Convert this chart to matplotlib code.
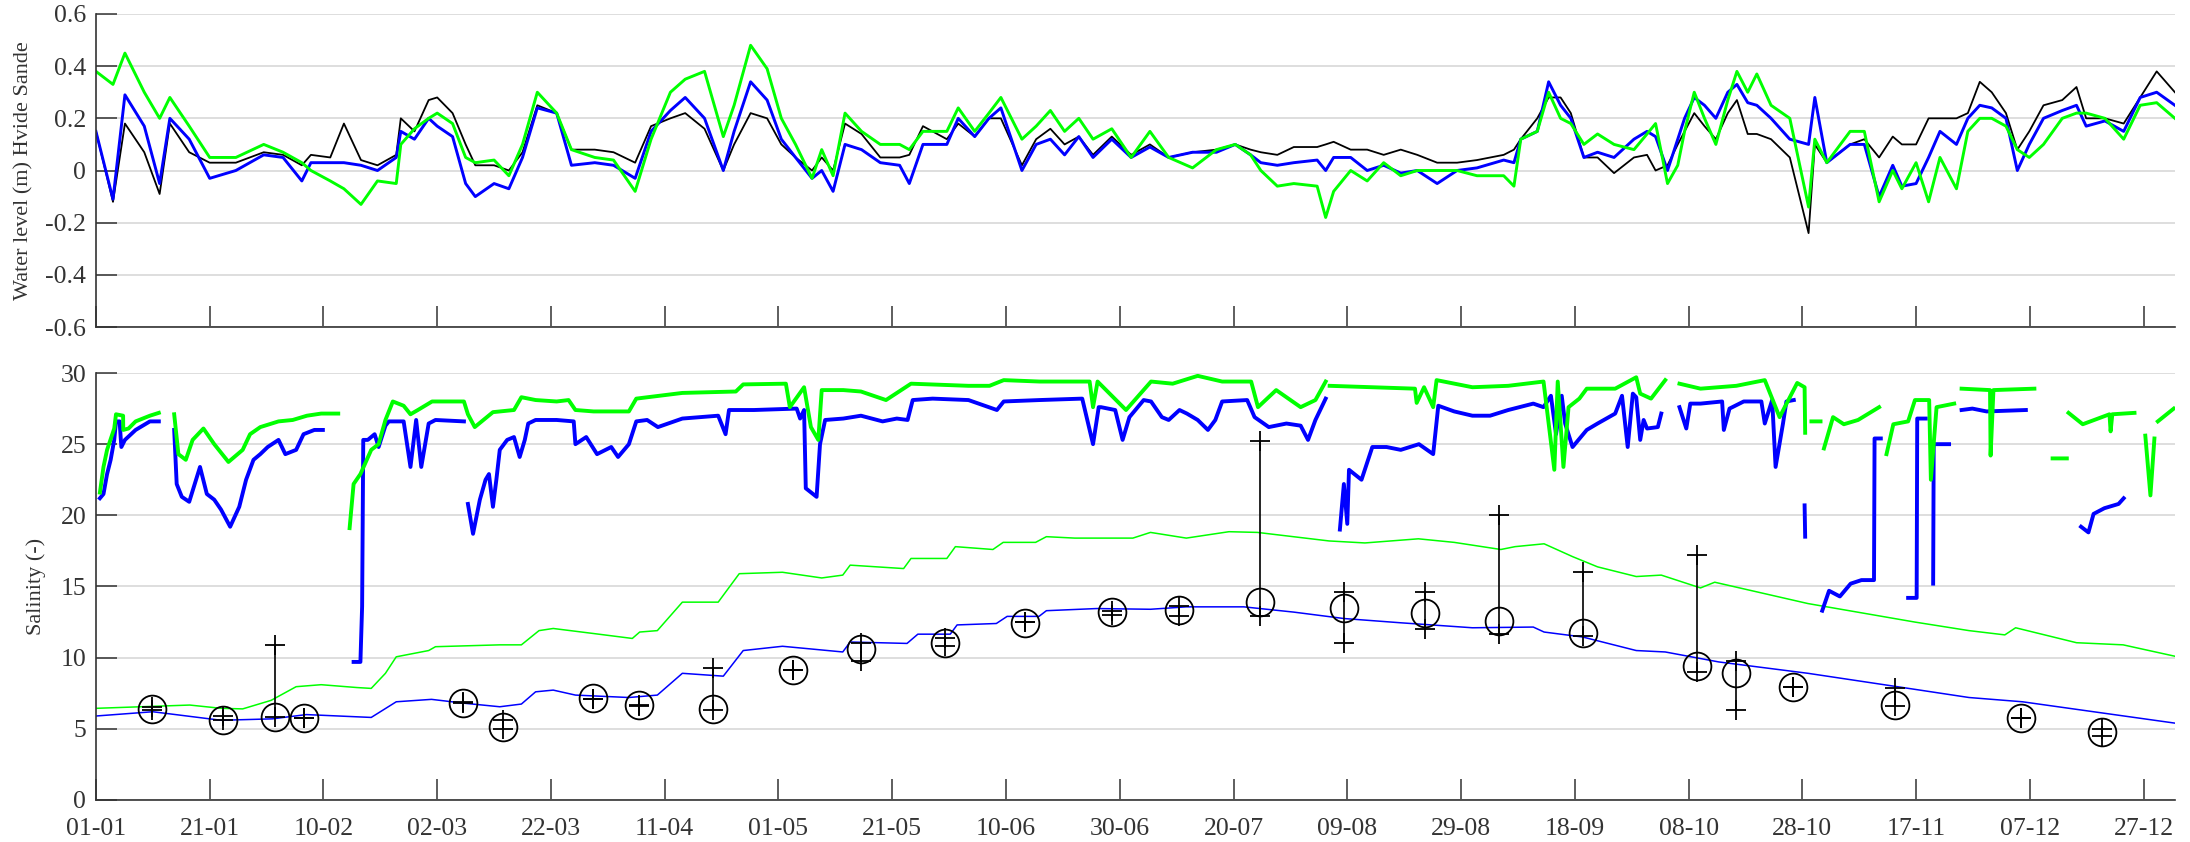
import numpy as np
import matplotlib.pyplot as plt

nan = np.nan

# x axis: day of year (01-01 = 0)
tick_days = list(range(0, 361, 20))
tick_labels = ["01-01", "21-01", "10-02", "02-03", "22-03", "11-04", "01-05",
               "21-05", "10-06", "30-06", "20-07", "09-08", "29-08", "18-09",
               "08-10", "28-10", "17-11", "07-12", "27-12"]

# ---- water level Hvide Sande (top panel) ----
wl_days = [0, 3, 5.1, 8.5, 11.2, 13, 16.4, 20, 24.6, 29.5, 32.9, 36.2, 37.8, 41.2,
           43.6, 46.6, 49.5, 52.8, 53.6, 56, 58.5, 60, 62.7, 65, 66.7, 70, 72.6, 75,
           77.6, 81, 83.6, 87.7, 91, 94.8, 97.6, 101, 103.6, 107, 110.3, 112.2, 115.1,
           118, 120.5, 123, 125.9, 127.6, 129.6, 131.7, 134.6, 137.9, 141.3, 143,
           145.4, 149.6, 151.6, 154.5, 157, 159.1, 162.8, 165.3, 167.8, 170.3, 172.8,
           175.3, 178.6, 182, 185.3, 188.6, 192.8, 197, 200.3,
           203, 204.8, 207.7, 210.6, 214.7, 216.2, 217.6, 220.6, 223.5, 226.4, 229.4,
           232.3, 235.8, 239.3, 242.8, 247.5, 249.3, 250.5, 253.4, 255.4, 257.5,
           259.3, 261.6, 264, 266.9, 270.4, 272.7, 274.2, 276.3, 278.1, 279.3, 281,
           282.8, 284.8, 286.9, 288.5, 290.4,
           292, 294.5, 297.8, 301.1, 302.2, 304.3, 308.4, 310.9, 313.5, 315.9, 317.5,
           320, 322.2, 324.2, 327.1, 329.1, 331.2, 333.3, 335.8, 337.8, 339.9, 342.4,
           345.7, 348.2, 349.9, 353.2, 356.5, 359.4, 362.3, 365.5]
wl_black = [0.15, -0.12, 0.18, 0.07, -0.09, 0.18, 0.07, 0.03, 0.03, 0.07, 0.06, 0.02,
            0.06, 0.05, 0.18, 0.04, 0.02, 0.06, 0.20, 0.15, 0.27, 0.28, 0.22, 0.10,
            0.02, 0.02, 0.00, 0.07, 0.25, 0.22, 0.08, 0.08, 0.07, 0.03, 0.17, 0.20,
            0.22, 0.16, 0.00, 0.10, 0.22, 0.20, 0.10, 0.05, 0.00, 0.05, 0.00, 0.18,
            0.14, 0.05, 0.05, 0.06, 0.17, 0.12, 0.18, 0.13, 0.20, 0.20, 0.02, 0.12,
            0.16, 0.10, 0.13, 0.06, 0.13, 0.06, 0.10, 0.05, 0.07, 0.08, 0.10,
            0.08, 0.07, 0.06, 0.09, 0.09, 0.10, 0.11, 0.08, 0.08, 0.06, 0.08,
            0.06, 0.03, 0.03, 0.04, 0.06, 0.08, 0.12, 0.20, 0.28, 0.28,
            0.22, 0.05, 0.05, -0.01, 0.05, 0.06, 0.00, 0.02, 0.10, 0.15, 0.22,
            0.17, 0.12, 0.22, 0.27, 0.14,
            0.14, 0.12, 0.05, -0.24, 0.10, 0.03, 0.10, 0.12, 0.05, 0.13, 0.10,
            0.10, 0.20, 0.20, 0.20, 0.22, 0.34, 0.30, 0.22, 0.08, 0.15, 0.25,
            0.27, 0.32, 0.20, 0.20, 0.18, 0.28, 0.38, 0.30]
wl_blue = [0.15, -0.11, 0.29, 0.17, -0.05, 0.20, 0.12, -0.03, 0.00, 0.06, 0.05, -0.04,
           0.03, 0.03, 0.03, 0.02, 0.00, 0.05, 0.15, 0.12, 0.20, 0.17, 0.13, -0.05,
           -0.10, -0.05, -0.07, 0.05, 0.24, 0.22, 0.02, 0.03, 0.02, -0.03, 0.15, 0.23,
           0.28, 0.20, 0.00, 0.15, 0.34, 0.27, 0.12, 0.05, -0.03, 0.00, -0.08, 0.10,
           0.08, 0.03, 0.02, -0.05, 0.10, 0.10, 0.20, 0.13, 0.20, 0.24, 0.00, 0.10,
           0.12, 0.06, 0.13, 0.05, 0.12, 0.05, 0.09, 0.05, 0.07, 0.07, 0.10,
           0.06, 0.03, 0.02, 0.03, 0.04, 0.00, 0.05, 0.05, 0.00, 0.02, -0.01,
           0.00, -0.05, 0.00, 0.01, 0.04, 0.03, 0.12, 0.15, 0.34, 0.25,
           0.20, 0.05, 0.07, 0.05, 0.12, 0.15, 0.13, 0.00, 0.12, 0.20, 0.28,
           0.25, 0.20, 0.30, 0.33, 0.26,
           0.25, 0.20, 0.12, 0.10, 0.28, 0.03, 0.10, 0.10, -0.10, 0.02, -0.06,
           -0.05, 0.05, 0.15, 0.10, 0.20, 0.25, 0.24, 0.20, 0.00, 0.10, 0.20,
           0.23, 0.25, 0.17, 0.19, 0.15, 0.28, 0.30, 0.25]
wl_green = [0.38, 0.33, 0.45, 0.30, 0.20, 0.28, 0.17, 0.05, 0.05, 0.10, 0.07, 0.03,
            0.00, -0.04, -0.07, -0.13, -0.04, -0.05, 0.10, 0.16, 0.20, 0.22, 0.18,
            0.05, 0.03, 0.04, -0.02, 0.10, 0.30, 0.22, 0.08, 0.05, 0.04, -0.08, 0.12,
            0.30, 0.35, 0.38, 0.13, 0.25, 0.48, 0.39, 0.20, 0.10, -0.03, 0.08, -0.02,
            0.22, 0.15, 0.10, 0.10, 0.08, 0.15, 0.15, 0.24, 0.15, 0.22, 0.28, 0.12,
            0.17, 0.23, 0.15, 0.20, 0.12, 0.16, 0.05, 0.15, 0.05, 0.01, 0.08, 0.10,
            0.06, 0.00, -0.06, -0.05, -0.06, -0.18, -0.08, 0.00, -0.04, 0.03, -0.02,
            0.00, 0.00, 0.00, -0.02, -0.02, -0.06, 0.12, 0.15, 0.30, 0.20,
            0.18, 0.10, 0.14, 0.10, 0.08, 0.14, 0.18, -0.05, 0.02, 0.15, 0.30,
            0.20, 0.10, 0.27, 0.38, 0.30,
            0.37, 0.25, 0.20, -0.14, 0.12, 0.03, 0.15, 0.15, -0.12, 0.00, -0.07,
            0.03, -0.12, 0.05, -0.07, 0.15, 0.20, 0.20, 0.17, 0.08, 0.05, 0.10,
            0.20, 0.22, 0.22, 0.20, 0.12, 0.25, 0.26, 0.20]

# ---- salinity (bottom panel) ----
# upper thick green (gaps = nan)
sg_days = [0.7, 1.33, 1.96, 3.22, 3.53, 4.78, 4.8, 5.73, 6.98, 9.49, 11.06, nan,
           13.76, 14.5, 15.8, 17.0, 18.9, 20.8, 23.3, 25.8, 27.1, 28.9, 32.1, 34.6,
           37.1, 39.6, 42.6, nan,
           44.6, 45.3, 46.5, 48.4, 49.7, 50.9, 52.2, 54.1, 55.3, 56.6, 59.1, 61.6,
           64.7, 65.4, 66.6, 69.8, 73.5, 74.8, 77.3, 81.0, 83.1, 84.3, 87.5, 93.7,
           95.0, 103.1, 112.5, 113.8, 121.3, 122.0, 124.5, 125.7, 127.0, 127.6,
           131.4, 134.5, 138.9, 143.3, 153.4, 157.1, 159.6, 165.9, 174.7, 175.3,
           176.1, 181.1, 185.5, 189.3, 193.7, 198.0, 203.1, 204.3, 207.5, 211.8,
           214.4, 216.2, nan,
           216.9, 231.9, 232.2, 233.5, 235.1, 235.7, 242.0, 248.3, 254.5, 256.4,
           257.0, 258.0, 258.9, 260.8, 262.1, 267.1, 270.8, 271.5, 273.4, 275.9, nan,
           278.4, 282.1, 288.4, 293.4, 296.0, 299.1, 300.4, 300.5, nan,
           301.6, 303.2, nan,
           303.8, 305.4, 307.3, 309.8, 313.5, nan,
           314.8, 316.0, 318.6, 319.8, 322.3, 322.6, 323.6, 326.7, nan,
           328.0, 333.0, 333.1, 333.6, 340.8, nan,
           344.0, 346.5, nan,
           346.8, 349.3, 354.0, 354.2, 354.5, 358.4, nan,
           360.3, 361.2, 361.9, nan,
           362.5, 365.3]
sg_vals = [21.6, 23.4, 24.6, 26.1, 27.1, 27.0, 26.0, 26.1, 26.6, 27.0, 27.2, nan,
           27.1, 24.3, 23.9, 25.3, 26.1, 25.0, 23.75, 24.6, 25.7, 26.2, 26.6, 26.7,
           27.0, 27.15, 27.15, nan,
           19.1, 22.2, 22.9, 24.6, 25.0, 26.7, 28.0, 27.7, 27.1, 27.4, 28.0, 28.0,
           28.0, 27.1, 26.2, 27.25, 27.4, 28.3, 28.1, 28.0, 28.1, 27.4, 27.3, 27.3,
           28.2, 28.6, 28.7, 29.2, 29.25, 27.6, 29.0, 26.2, 25.3, 28.8,
           28.8, 28.7, 28.1, 29.25, 29.1, 29.1, 29.5, 29.4, 29.4, 27.6,
           29.4, 27.4, 29.4, 29.25, 29.8, 29.4, 29.4, 27.6, 28.8, 27.6,
           28.1, 29.4, nan,
           29.1, 28.9, 27.9, 29.0, 27.6, 29.5, 29.0, 29.1, 29.4, 23.2,
           29.4, 23.4, 27.6, 28.2, 28.9, 28.9, 29.7, 28.55, 28.2, 29.5, nan,
           29.25, 28.9, 29.1, 29.5, 26.9, 29.3, 29.0, 25.8, nan,
           26.6, 26.6, nan,
           24.7, 26.9, 26.4, 26.7, 27.6, nan,
           24.3, 26.4, 26.6, 28.1, 28.1, 22.5, 27.6, 27.85, nan,
           28.9, 28.8, 24.2, 28.8, 28.9, nan,
           24.0, 24.0, nan,
           27.2, 26.4, 27.1, 25.9, 27.1, 27.2, nan,
           25.6, 21.4, 25.4, nan,
           26.6, 27.5]

# upper thick blue (gaps = nan)
sb_days = [0.7, 1.33, 1.96, 2.59, 3.22, 3.53, 4.16, 4.47, 5.1, 6.98, 9.49, 11.06, nan,
           13.76, 14.2, 15.1, 16.4, 17.6, 18.3, 19.5, 20.8, 22.0, 23.6, 25.2, 26.4,
           27.7, 28.9, 30.2, 32.1, 33.3, 35.2, 36.5, 38.4, 39.9, nan,
           45.3, 46.5, 46.8, 47.0, 47.8, 49.0, 49.7, 50.9, 51.5, 54.1, 55.3, 56.3,
           57.2, 58.5, 59.7, 64.7, nan,
           65.4, 66.3, 67.5, 68.5, 69.1, 69.8, 70.4, 71.0, 72.3, 73.5, 74.5, 75.4,
           76.0, 77.3, 81.0, 84.0, 84.3, 86.2, 88.1, 90.6, 91.8, 93.7, 95.0, 96.9,
           98.8, 103.1, 109.4, 110.7, 111.3, 115.7, 123.2, 123.8, 124.5, 124.8,
           126.7, 127.3, 128.2, 131.4, 134.5, 138.3, 140.8, 142.7, 143.6, 147.1,
           153.4, 158.4, 159.6, 165.9, 173.4, 175.3, 176.3, 176.7, 179.2, 180.5,
           181.7, 184.2, 185.5, 187.4, 188.6, 190.5, 191.8, 193.7, 195.5, 196.8,
           198.0, 202.4, 203.7, 206.2, 209.3, 211.8, 213.1, 214.4, 216.2, nan,
           218.7, 219.4, 220.0, 220.3, 222.5, 224.4, 226.9, 229.4, 232.6, 235.1,
           236.0, 238.8, 242.0, 245.1, 248.3, 252.7, 254.5, 255.8, 256.7, 257.7,
           258.3, 259.6, 262.1, 264.0, 267.1, 268.3, 269.3, 270.2, 270.8, 271.5,
           272.1, 272.7, 274.6, 275.2, nan,
           278.4, 279.6, 280.3, 282.1, 285.9, 286.2, 287.2, 289.7, 292.8, 293.4,
           294.7, 295.3, 296.6, 297.2, 298.5, nan,
           300.4, 300.5, nan,
           303.5, 304.7, 306.6, 308.5, 310.4, 312.6, 312.7, 313.8, nan,
           318.6, 320.1, 320.2, 321.7, nan,
           323.0, 323.1, 325.8, nan,
           328.0, 329.9, 332.4, 339.3, nan,
           349.0, 350.3, 351.2, 353.1, 355.6, 356.5]
sb_vals = [21.2, 21.5, 22.9, 23.9, 25.3, 26.6, 26.6, 24.8, 25.3, 26.0, 26.6, 26.6, nan,
           26.0, 22.2, 21.3, 20.95, 22.5, 23.4, 21.5, 21.1, 20.4, 19.2, 20.6, 22.5,
           23.9, 24.3, 24.8, 25.3, 24.3, 24.6, 25.7, 26.0, 26.0, nan,
           9.7, 9.7, 13.6, 25.3, 25.3, 25.7, 24.8, 26.3, 26.6, 26.6, 23.4, 26.7,
           23.4, 26.45, 26.7, 26.6, nan,
           20.8, 18.7, 21.1, 22.5, 22.9, 20.6, 22.5, 24.6, 25.3, 25.5, 24.1, 25.3,
           26.45, 26.7, 26.7, 26.6, 25.0, 25.5, 24.3, 24.8, 24.1, 25.0, 26.6, 26.7,
           26.2, 26.8, 27.0, 25.7, 27.4, 27.4, 27.5, 26.8, 27.4, 21.9,
           21.3, 25.0, 26.7, 26.8, 27.0, 26.6, 26.8, 26.7, 28.1, 28.2,
           28.1, 27.4, 28.0, 28.1, 28.2, 25.0, 27.6, 27.6, 27.4, 25.3,
           26.9, 28.1, 28.0, 26.9, 26.7, 27.4, 27.15, 26.7, 26.0, 26.7,
           28.0, 28.1, 26.9, 26.2, 26.45, 26.3, 25.3, 26.7, 28.2, nan,
           19.0, 22.2, 19.4, 23.2, 22.5, 24.8, 24.8, 24.6, 25.0, 24.3,
           27.7, 27.3, 27.0, 27.0, 27.4, 27.85, 27.6, 28.4, 25.7, 28.4,
           26.45, 24.8, 26.0, 26.45, 27.15, 28.4, 24.8, 28.55, 28.3, 25.3,
           26.7, 26.1, 26.2, 27.15, nan,
           27.6, 26.1, 27.85, 27.85, 28.0, 26.0, 27.5, 28.0, 28.0, 26.45,
           28.1, 23.4, 26.45, 28.0, 28.1, nan,
           20.7, 18.5, nan,
           13.3, 14.7, 14.3, 15.2, 15.45, 15.45, 25.4, 25.4, nan,
           14.2, 14.2, 26.8, 26.8, nan,
           15.2, 25.0, 25.0, nan,
           27.4, 27.5, 27.3, 27.4, nan,
           19.2, 18.8, 20.1, 20.5, 20.8, 21.2]

# lower thin green
lg_days = [0, 16.5, 22, 25.8, 30.8, 35.2, 39.6, 45.9, 48.4, 50.9, 52.8, 58.5, 59.7,
           71, 74.8, 77.9, 80.4, 87.4, 94.3, 95.6, 98.7, 103.1, 109.4, 113.1, 120.7,
           127.6, 131.3, 132.6, 142, 143.3, 149.6, 151.1, 157.7, 159.5, 165.2, 167.1,
           172.1, 182.3, 185.4, 191.7, 199.2, 204.2, 216.8, 223.1, 232.5, 238.8, 247,
           249.5, 254.6, 259.6, 264, 270.8, 275.2, 282.1, 284.6, 301, 319.8, 329.3,
           335.6, 337.5, 348.2, 356.4, 365.5]
lg_vals = [6.44, 6.67, 6.44, 6.4, 7.0, 7.96, 8.1, 7.9, 7.84, 8.9, 10.06, 10.5, 10.77,
           10.9, 10.9, 11.9, 12.05, 11.7, 11.35, 11.8, 11.9, 13.9, 13.9, 15.9, 16.0,
           15.6, 15.8, 16.5, 16.26, 16.97, 16.97, 17.8, 17.6, 18.1, 18.1, 18.5,
           18.4, 18.4, 18.8, 18.4, 18.85, 18.8, 18.2, 18.06, 18.35, 18.1, 17.6,
           17.8, 18.0, 17.1, 16.38, 15.7, 15.8, 14.9, 15.3, 13.8, 12.5, 11.9,
           11.6, 12.1, 11.05, 10.9, 10.1]

# lower thin blue
lb_days = [0, 10, 22, 31, 37, 48.4, 52.8, 59, 64.7, 71, 74.8, 77.3, 80.4, 84.3, 93.7,
           98.7, 103.1, 110.3, 113.8, 120.7, 131.3, 132.6, 142.6, 144.5, 150.2, 151.4,
           158.3, 160.2, 165.8, 167.1, 175.9, 185.4, 191.7, 201.8, 210.6, 219.4, 229.4,
           242, 252.7, 254.6, 261.4, 270.8, 275.9, 285.3, 301, 316.7, 329.3, 338.7,
           351.2, 365.5]
lb_vals = [5.9, 6.2, 5.6, 5.7, 6.0, 5.8, 6.9, 7.07, 6.8, 6.55, 6.74, 7.6, 7.72, 7.37,
           7.2, 7.37, 8.9, 8.7, 10.5, 10.8, 10.4, 11.1, 11.0, 11.65, 11.65, 12.3,
           12.4, 12.9, 12.9, 13.3, 13.45, 13.4, 13.57, 13.57, 13.2, 12.75, 12.45,
           12.1, 12.15, 11.8, 11.45, 10.5, 10.4, 9.7, 8.9, 7.96, 7.2, 6.9, 6.2, 5.4]

# measurements: day, mean (circle), low / high (plus)
obs_days = [9.8, 22.4, 31.5, 36.5, 64.6, 71.6, 87.4, 95.4, 108.5, 122.5, 134.5, 149.3,
            163.4, 178.6, 190.5, 204.6, 219.4, 233.6, 246.7, 261.4, 281.4, 288.4,
            298.4, 316.3, 338.5, 352.6]
obs_mean = [6.39, 5.62, 5.85, 5.78, 6.83, 5.1, 7.14, 6.67, 6.37, 9.13, 10.62, 11.0,
            12.45, 13.22, 13.34, 13.92, 13.46, 13.15, 12.57, 11.7, 9.4, 8.9, 7.96,
            6.67, 5.78, 4.8]
obs_low = [6.3, 5.6, 5.85, 5.78, 6.83, 5.0, 7.1, 6.6, 6.3, 9.13, 9.75, 10.8, 12.5,
           13.0, 12.9, 12.9, 11.0, 12.0, 11.65, 11.5, 9.0, 6.3, 7.96, 6.6, 5.78, 4.5]
obs_high = [6.5, 5.9, 10.9, 5.78, 6.85, 5.6, 7.1, 6.7, 9.3, 9.13, 11.0, 11.4, 12.5,
            13.3, 13.6, 25.2, 14.6, 14.6, 20.0, 16.0, 17.2, 9.8, 7.96, 7.9, 5.78, 5.0]

GREEN = "#00ff00"
BLUE = "#0000ff"
TXT = "#333333"
SERIF = ["Liberation Serif", "DejaVu Serif"]

plt.rcParams["font.family"] = SERIF

fig = plt.figure(figsize=(21.9, 8.42), dpi=100)
ax1 = fig.add_axes([0.0438, 0.6116, 0.9493, 0.3718])
ax2 = fig.add_axes([0.0438, 0.0499, 0.9493, 0.5071])


def style_axis(ax):
    for s in ["top", "right"]:
        ax.spines[s].set_visible(False)
    for s in ["left", "bottom"]:
        ax.spines[s].set_color(TXT)
        ax.spines[s].set_linewidth(1.2)
    ax.yaxis.grid(True, color="#dedede", linewidth=1.4)
    ax.set_axisbelow(True)
    ax.set_xlim(0, 365.5)
    ax.set_xticks(tick_days)
    ax.tick_params(direction="in", length=15, width=1.1, color=TXT,
                   labelcolor=TXT, labelsize=18.5)
    ax.tick_params(axis="y", pad=7)
    ax.tick_params(axis="x", pad=13)


# top panel
style_axis(ax1)
ax1.plot(wl_days, wl_black, color="black", lw=1.3)
ax1.plot(wl_days, wl_blue, color=BLUE, lw=2.1)
ax1.plot(wl_days, wl_green, color=GREEN, lw=2.1)
ax1.set_ylim(-0.6, 0.6)
wl_ticks = [-0.6, -0.4, -0.2, 0, 0.2, 0.4, 0.6]
ax1.set_yticks(wl_ticks)
ax1.set_yticklabels(["-0.6", "-0.4", "-0.2", "0", "0.2", "0.4", "0.6"])
ax1.set_xticklabels([])
ax1.set_ylabel("Water level (m) Hvide Sande", fontsize=16, color=TXT)
ax1.yaxis.set_label_coords(-0.03, 0.5)

# bottom panel
style_axis(ax2)
ax2.plot(lg_days, lg_vals, color=GREEN, lw=1.1)
ax2.plot(lb_days, lb_vals, color=BLUE, lw=1.1)
ax2.plot(sb_days, sb_vals, color=BLUE, lw=2.8)
ax2.plot(sg_days, sg_vals, color=GREEN, lw=2.8)
ax2.vlines(obs_days, obs_low, obs_high, color="black", lw=1.2)
ax2.plot(obs_days, obs_low, "+", color="black", ms=15, mew=1.3)
ax2.plot(obs_days, obs_high, "+", color="black", ms=15, mew=1.3)
ax2.plot(obs_days, obs_mean, "o", mfc="none", mec="black", ms=20, mew=1.3)
ax2.set_ylim(0, 30)
ax2.set_yticks([0, 5, 10, 15, 20, 25, 30])
ax2.set_xticklabels(tick_labels)
ax2.set_ylabel("Salinity (-)", fontsize=16, color=TXT)
ax2.yaxis.set_label_coords(-0.024, 0.5)

fig.savefig("out.png", dpi=100)
